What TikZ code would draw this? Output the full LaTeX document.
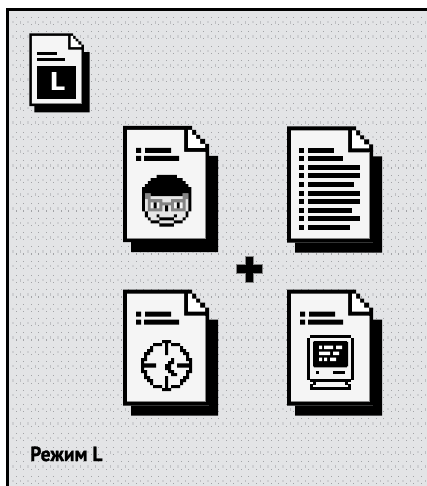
\documentclass[tikz,border=0pt]{standalone}
\usepackage{fontspec}
\newfontfamily\labelfont[FakeStretch=0.95,BoldFeatures={FakeBold=1.2}]{PT Sans}
\newfontfamily\glyphfont{DejaVu Sans}
\definecolor{panelgrey}{HTML}{E3E4E6}
\definecolor{dotdark}{HTML}{A2A3A6}
\definecolor{dotbar}{HTML}{BEBFC2}
\definecolor{dotbox}{HTML}{CFD0D3}
\definecolor{paperwhite}{HTML}{F5F5F5}
\definecolor{facelight}{HTML}{E6E6E6}
\definecolor{glassgrey}{HTML}{858585}
\tikzset{
    pics/paperdoc/.style={code={
        % shadow, then outline, then sheet and fold
        \fill[black] (86,30) -- (95,30) -- (95,126) -- (8,126) -- (8,116) -- (86,116) -- cycle;
        \fill[black] (0,0) -- (69,0) -- (69,4) -- (73,4) -- (73,9) -- (77,9) -- (77,13) -- (82,13)
            -- (82,18) -- (86,18) -- (86,116) -- (0,116) -- cycle;
        \fill[paperwhite] (4,4) -- (61,4) -- (61,26) -- (82,26) -- (82,112) -- (4,112) -- cycle;
        \fill[white] (65,4) -- (69,4) -- (69,9) -- (73,9) -- (73,13) -- (77,13) -- (77,18) -- (82,18)
            -- (82,22) -- (65,22) -- cycle;
        \draw[glassgrey, line width=.8pt] (82,26) -- (82,112) -- (4,112);
    }},
    pics/headbars/.style={code={
        \fill[black] (13,22) rectangle (18,27) (22,22) rectangle (48,27);
        \fill[black] (13,30) rectangle (18,35) (21,30) rectangle (56,35);
    }},
}
\begin{document}
\begin{tikzpicture}[x=1pt, y=-1pt]
    \useasboundingbox (0,0) rectangle (427,486);
    \fill[panelgrey] (6,8) rectangle (427,486);

    % dotted screen of the panel
    \foreach \y in {16.84,24.01,...,486} {
        \foreach \x in {15.5,23,...,427} {
            \fill[dotdark] (\x,\y) rectangle +(1.1,1.1);
        }
    }
    \foreach \y in {21.1,35.43,...,486} {
        \foreach \x in {12,27,...,427} {
            \fill[dotbox] (\x,\y) rectangle +(2.3,2.3);
        }
        \foreach \x in {19.7,34.7,...,427} {
            \fill[dotbar] (\x,\y) rectangle +(1.2,2.5);
        }
    }

    \fill[black] (6,8) rectangle (427,11);
    \fill[black] (6,8) rectangle (9,486);

    % small file
    \pic[xscale=.636, yscale=.627] at (29.3,33.3) {paperdoc};
    \fill[black] (36.7,52) rectangle (57,55);
    \fill[black] (36.7,58) rectangle (65,61);
    \fill[black] (36.7,66) rectangle (76,99.3);
    \node[text=white, inner sep=0pt, font=\glyphfont\bfseries\fontsize{24.7}{24.7}\selectfont] (lglyph) at (57.5,81.7) {L};

    % four files
    \pic at (123,126) {paperdoc};
    \pic at (123,126) {headbars};
    \pic at (287,126.5) {paperdoc};
    \pic at (123,289.5) {paperdoc};
    \pic at (123,289.5) {headbars};
    \pic at (287,289.5) {paperdoc};
    \pic at (287,289.5) {headbars};

    % face
    \begin{scope}[shift={(142pt,-175pt)}, x=2.9pt, y=-3.03pt]
        \fill[facelight] \foreach \a/\b/\r in {3/14/7, 1/16/8, 1/16/9, 1/16/10, 1/16/11, 1/16/12, 2/15/13, 3/14/14, 5/12/15} {
            (\a,\r) rectangle (\b,\r+1)
        };
        \fill[paperwhite] \foreach \a/\b/\r in {3/6/9, 11/14/9, 3/6/10, 11/14/10} {
            (\a,\r) rectangle (\b,\r+1)
        };
        \fill[glassgrey] \foreach \a/\b/\r in {1/3/6, 14/16/6, 1/3/7, 14/16/7, 2/7/8, 10/15/8, 2/3/9, 6/11/9, 14/15/9,
            2/3/10, 6/7/10, 10/11/10, 14/15/10, 2/7/11, 10/15/11} {
            (\a,\r) rectangle (\b,\r+1)
        };
        \fill[black] \foreach \a/\b/\r in {5/12/0, 3/14/1, 2/15/2, 1/16/3, 0/17/4, 0/17/5, 0/1/6, 3/14/6, 16/17/6,
            0/1/7, 16/17/7, 0/1/8, 16/17/8, 0/1/9, 16/17/9, 4/5/9, 12/13/9, 4/5/10, 12/13/10,
            0/1/10, 16/17/10, 8/9/10, 0/1/11, 16/17/11, 8/9/11, 1/2/12, 15/16/12, 1/2/13, 15/16/13,
            5/6/13, 11/12/13, 2/3/14, 14/15/14, 6/11/14, 3/6/15, 11/14/15, 6/11/16} {
            (\a,\r) rectangle (\b,\r+1)
        };
    \end{scope}

    % list
    \foreach \rowy/\rowend in {21.5/47, 29.5/56, 38.5/73, 46.5/73, 55.5/67, 64.5/73, 72.5/73, 81.5/65, 89.5/73, 98.5/63} {
        \fill[black] (287+12,126.5+\rowy) rectangle +(5,5);
        \fill[black] (287+21,126.5+\rowy) rectangle (287+\rowend,126.5+\rowy+5);
    }

    % clock
    \begin{scope}[shift={(141pt,-340pt)}, x=3pt, y=-3pt]
        \fill[black] \foreach \a/\b/\r/\e in {7/10/0/1, 4/7/1/2, 10/13/1/2, 3/4/2/4, 13/14/2/4, 2/3/3/5, 14/15/3/5,
            1/2/4/7, 15/16/4/7, 0/1/6/11, 16/17/6/11, 1/2/10/13, 15/16/10/13, 2/3/12/14, 14/15/12/14,
            3/4/13/15, 13/14/13/15, 4/7/15/16, 10/13/15/16, 7/10/16/17,
            8/9/1/5, 8/9/12/16, 1/5/7.8/9.2, 12/16/7.8/9.2,
            10/11/6/7, 9/11/7/8, 8/10/8/9, 8/10/9/10, 9/11/10/11, 10/12/11/12} {
            (\a,\r) rectangle (\b,\e)
        };
    \end{scope}

    % computer
    \begin{scope}[shift={(307pt,-335pt)}, x=3pt, y=-3pt]
        \fill[black] (1,0) rectangle (14.67,1);
        \fill[black] (0,1) rectangle (1,15);
        \fill[black] (14.67,1) rectangle (15.67,15);
        \fill[black] (2.33,2) rectangle (13.33,10.78) (2,2.33) rectangle (13.67,10.44);
        \fill[black] (3,12) rectangle (4,13);
        \fill[black] (8.67,12) rectangle (12.67,13);
        \fill[black] (1,14.67) rectangle (14.67,15.67);
        \fill[black] (2,15.67) rectangle (3,16.67);
        \fill[black] (12.67,15.67) rectangle (13.67,16.67);
        \fill[black] (1,16.33) rectangle (2,18.33);
        \fill[black] (13.67,16.33) rectangle (14.67,18.33);
        \fill[black] (1,17.33) rectangle (14.67,18.33);
        \fill[white] \foreach \a/\b/\r in {4/5/3.56, 5.67/8.67/3.56, 9.67/11.67/3.56,
            4/7.67/5.56, 8.67/10.67/5.56, 4/5/7.56, 5.67/6.67/7.56, 7.67/9.67/7.56} {
            (\a,\r) rectangle (\b,\r+1.11)
        };
    \end{scope}

    % plus
    \draw[fill=black, draw=glassgrey, line width=.5pt] (245,256.7) -- (253,256.7) -- (253,264.7) -- (262,264.7) -- (262,273.3)
        -- (253,273.3) -- (253,282.3) -- (245,282.3) -- (245,273.3) -- (236,273.3) -- (236,264.7) -- (245,264.7) -- cycle;

    \node[anchor=base west, inner sep=0pt, font=\labelfont\bfseries\fontsize{20.5}{20.5}\selectfont] (modelabel) at (30,461) {Режим L};
\end{tikzpicture}
\end{document}
